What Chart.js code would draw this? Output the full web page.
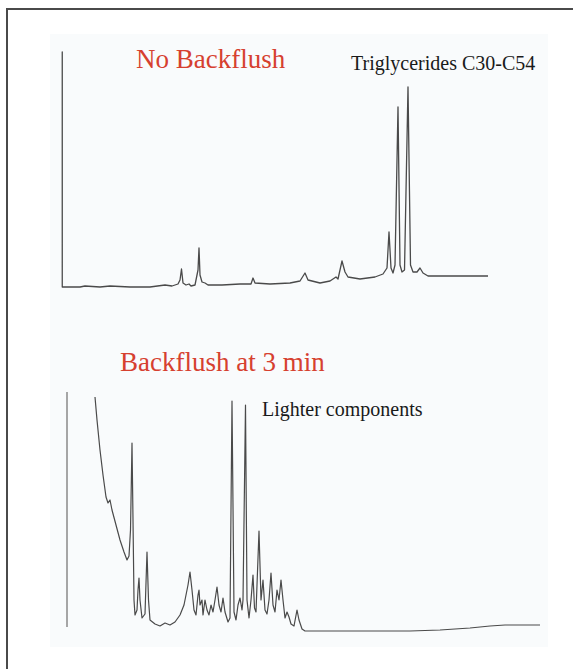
<!DOCTYPE html>
<html>
<head>
<meta charset="utf-8">
<script src="https://cdn.jsdelivr.net/npm/chart.js@4/dist/chart.umd.min.js"></script>
<style>
  html, body { margin:0; padding:0; background:#fff; }
  #wrap { position:relative; width:573px; height:669px; overflow:hidden; background:#fff; }
  #frame { position:absolute; left:6px; top:8px; width:600px; height:700px; border-left:2px solid #4a4a4a; border-top:2px solid #4a4a4a; }
  #tint { position:absolute; left:50px; top:34px; width:498px; height:613px; background:#f9fbfc; }
  .t { position:absolute; font-family:"Liberation Serif","Times New Roman",serif; white-space:nowrap; }
  .red { color:#d6402f; font-size:27px; line-height:27px; }
  .blk { color:#1a1a1a; font-size:20px; line-height:20px; }
  canvas { position:absolute; }
</style>
</head>
<body>
<div id="wrap">
  <div id="frame"></div>
  <div id="tint"></div>
  <div class="t red" style="left:136px; top:46px;">No Backflush</div>
  <div class="t blk" style="left:351px; top:53px;">Triglycerides C30-C54</div>
  <div class="t red" style="left:120px; top:349px;">Backflush at 3 min</div>
  <div class="t blk" style="left:262px; top:399px;">Lighter components</div>
  <div id="c1box" style="position:absolute; left:57px; top:47px; width:436px; height:245px;"><canvas id="c1"></canvas></div>
  <div id="c2box" style="position:absolute; left:62px; top:387px; width:483px; height:253px;"><canvas id="c2"></canvas></div>
</div>
<script>
// Panel 1 — No Backflush: retention (arbitrary time units) and detector response
const noBfTime = [0,0,0.05,1.8,2.3,3.8,4.8,6.8,8.8,10.3,11.0,11.6,11.8,11.95,12.1,12.4,12.7,12.9,13.3,13.6,13.7,13.8,14.0,14.3,14.6,16.0,17.8,18.9,19.1,19.3,20.8,22.8,23.8,24.3,24.6,25.8,26.8,27.4,27.6,28.0,28.3,28.6,29.8,31.3,32.1,32.5,32.7,32.9,33.1,33.3,33.6,33.8,34.0,34.25,34.6,34.85,35.1,35.5,35.8,36.1,36.6,38.8,42.6];
const noBfResp = [0,235,0,0,1,0,1,0,0,2,1,3,7,18,4,2,3,1,2,17,39,12,5,4,2,2,3,3,9,4,3,4,6,14,7,4,6,10,8,26,15,10,8,10,13,19,55,19,14,22,180,22,15,17,200,22,15,15,19,14,11,11,11];

// Panel 2 — Backflush at 3 min
const bfTime = [2.8,3.0,3.3,3.6,3.9,4.1,4.3,4.5,4.9,5.3,5.7,6.0,6.2,6.35,6.5,6.6,6.7,6.8,7.0,7.1,7.2,7.3,7.5,7.8,8.0,8.15,8.3,8.8,9.3,9.8,10.3,10.8,11.3,11.7,12.1,12.3,12.5,12.7,12.9,13.1,13.2,13.3,13.5,13.6,13.8,14.0,14.2,14.4,14.6,14.8,15.0,15.2,15.4,15.6,15.8,16.1,16.3,16.5,16.7,16.9,17.1,17.3,17.5,17.6,17.85,18.0,18.2,18.4,18.6,18.75,18.9,19.2,19.4,19.6,19.8,20.0,20.2,20.4,20.6,20.8,21.0,21.2,21.4,21.6,21.8,22.0,22.2,22.4,22.7,23.0,23.2,23.5,23.8,29.3,34.3,37.3,40.3,42.3,43.8,47.3];
const bfResp = [238,215,185,160,138,132,135,125,110,95,83,75,79,105,192,115,35,20,25,45,57,35,17,21,83,35,15,11,9,12,10,13,20,30,50,63,45,25,20,40,45,30,35,20,35,25,20,30,23,35,48,30,23,37,23,13,17,234,23,15,30,37,25,35,230,35,17,35,60,27,23,104,35,55,25,21,35,62,30,23,45,35,55,35,17,23,18,11,9,25,15,6,4,4,4,5,7,9,10,10];

// Left signal axis of the lower trace
const axisTime = [0,0];
const axisResp = [8,243];

function pts(xs, ys){ return xs.map((x,i)=>({x:x, y:ys[i]})); }

function makeChart(id, datasets, xmax, ymax){
  return new Chart(document.getElementById(id), {
    type:'line',
    data:{ datasets: datasets },
    options:{
      responsive:true, maintainAspectRatio:false, animation:false,
      layout:{ padding:5 },
      plugins:{ legend:{display:false}, tooltip:{enabled:false}, title:{display:false} },
      elements:{ point:{ radius:0 }, line:{ tension:0, borderJoinStyle:'round' } },
      scales:{
        x:{ type:'linear', min:0, max:xmax, display:false },
        y:{ type:'linear', min:0, max:ymax, display:false }
      }
    }
  });
}

makeChart('c1', [
  { data: pts(noBfTime, noBfResp), borderColor:'#4a4a4a', borderWidth:1.3, clip:false }
], 42.6, 235);

makeChart('c2', [
  { data: pts(axisTime, axisResp), borderColor:'#8a8a8a', borderWidth:1.5, clip:false },
  { data: pts(bfTime, bfResp), borderColor:'#4a4a4a', borderWidth:1.2, clip:false }
], 47.3, 243);
</script>
</body>
</html>
